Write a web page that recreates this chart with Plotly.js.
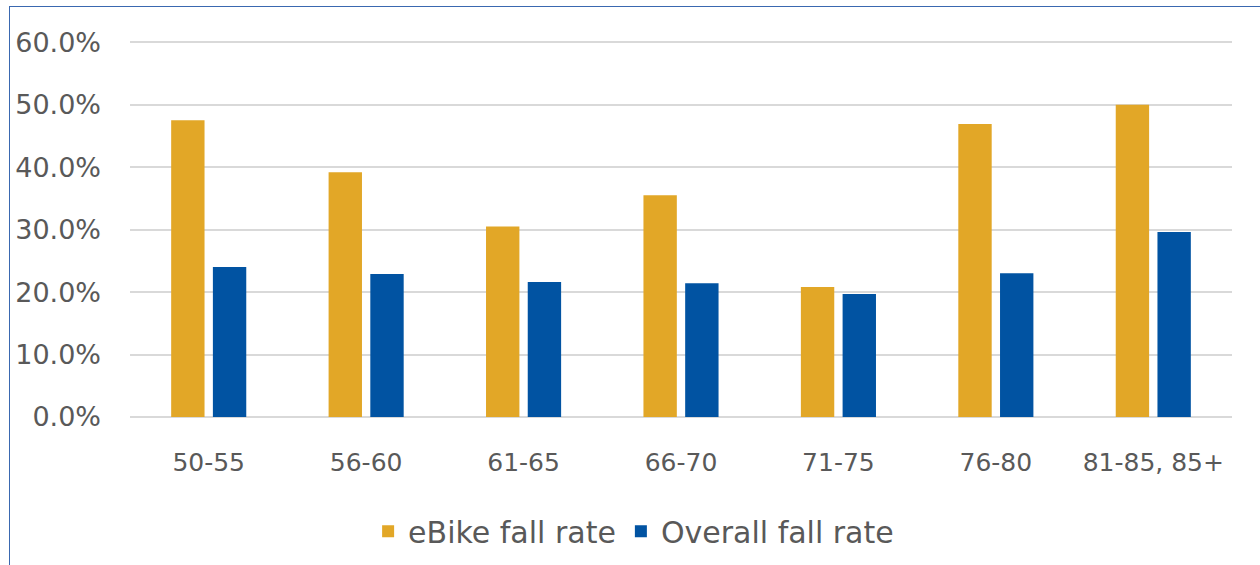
<!DOCTYPE html>
<html>
<head>
<meta charset="utf-8">
<script src="https://cdn.plot.ly/plotly-3.0.1.min.js"></script>
<style>
html,body{margin:0;padding:0;background:#fff;}
#wrap{position:relative;width:1260px;height:565px;overflow:hidden;}
#chart{width:1260px;height:565px;}
#frame{position:absolute;left:9px;top:6px;width:1260px;height:600px;border-top:1.5px solid #3A68B0;border-left:1.5px solid #3A68B0;pointer-events:none;}
</style>
</head>
<body>
<div id="wrap"><div id="chart"></div><div id="frame"></div></div>
<script>
const categories = ['50-55', '56-60', '61-65', '66-70', '71-75', '76-80', '81-85, 85+'];
const ebikeFallRate = [0.475, 0.392, 0.305, 0.355, 0.208, 0.469, 0.500];
const overallFallRate = [0.240, 0.229, 0.216, 0.214, 0.197, 0.230, 0.296];
const seriesNames = ['eBike fall rate', 'Overall fall rate'];
const yTicks = [0, 0.1, 0.2, 0.3, 0.4, 0.5, 0.6];

const font = "'Century Gothic', 'DejaVu Sans', sans-serif";
const traces = [
  {type: 'bar', name: seriesNames[0], x: categories, y: ebikeFallRate,
   marker: {color: '#E2A727'}, hoverinfo: 'skip'},
  {type: 'bar', name: seriesNames[1], x: categories, y: overallFallRate,
   marker: {color: '#0153A2'}, hoverinfo: 'skip'}
];
const layout = {
  width: 1260, height: 565,
  margin: {l: 130, r: 28, t: 36, b: 148, autoexpand: false},
  paper_bgcolor: '#ffffff', plot_bgcolor: '#ffffff',
  barmode: 'group', bargap: 0.47, bargroupgap: 0.2,
  font: {family: font, color: '#595959', size: 24},
  xaxis: {
    type: 'category', showgrid: false, zeroline: false, showline: false,
    ticks: '', tickfont: {size: 25, color: '#595959'}, ticklabelstandoff: 28
  },
  yaxis: {
    range: [0, 0.61], tickvals: yTicks, tickformat: '.1%',
    showgrid: true, gridcolor: '#D9D9D9', gridwidth: 2,
    zeroline: true, zerolinecolor: '#D9D9D9', zerolinewidth: 2,
    showline: false, ticks: '', tickfont: {size: 27, color: '#595959'},
    ticklabelstandoff: 28
  },
  showlegend: true,
  legend: {orientation: 'h', x: 0.457, xanchor: 'center', y: -0.30, yanchor: 'middle',
           font: {size: 30, color: '#595959'}, itemwidth: 30, traceorder: 'normal'}
};
Plotly.newPlot('chart', traces, layout, {staticPlot: true, displayModeBar: false});
</script>
</body>
</html>
